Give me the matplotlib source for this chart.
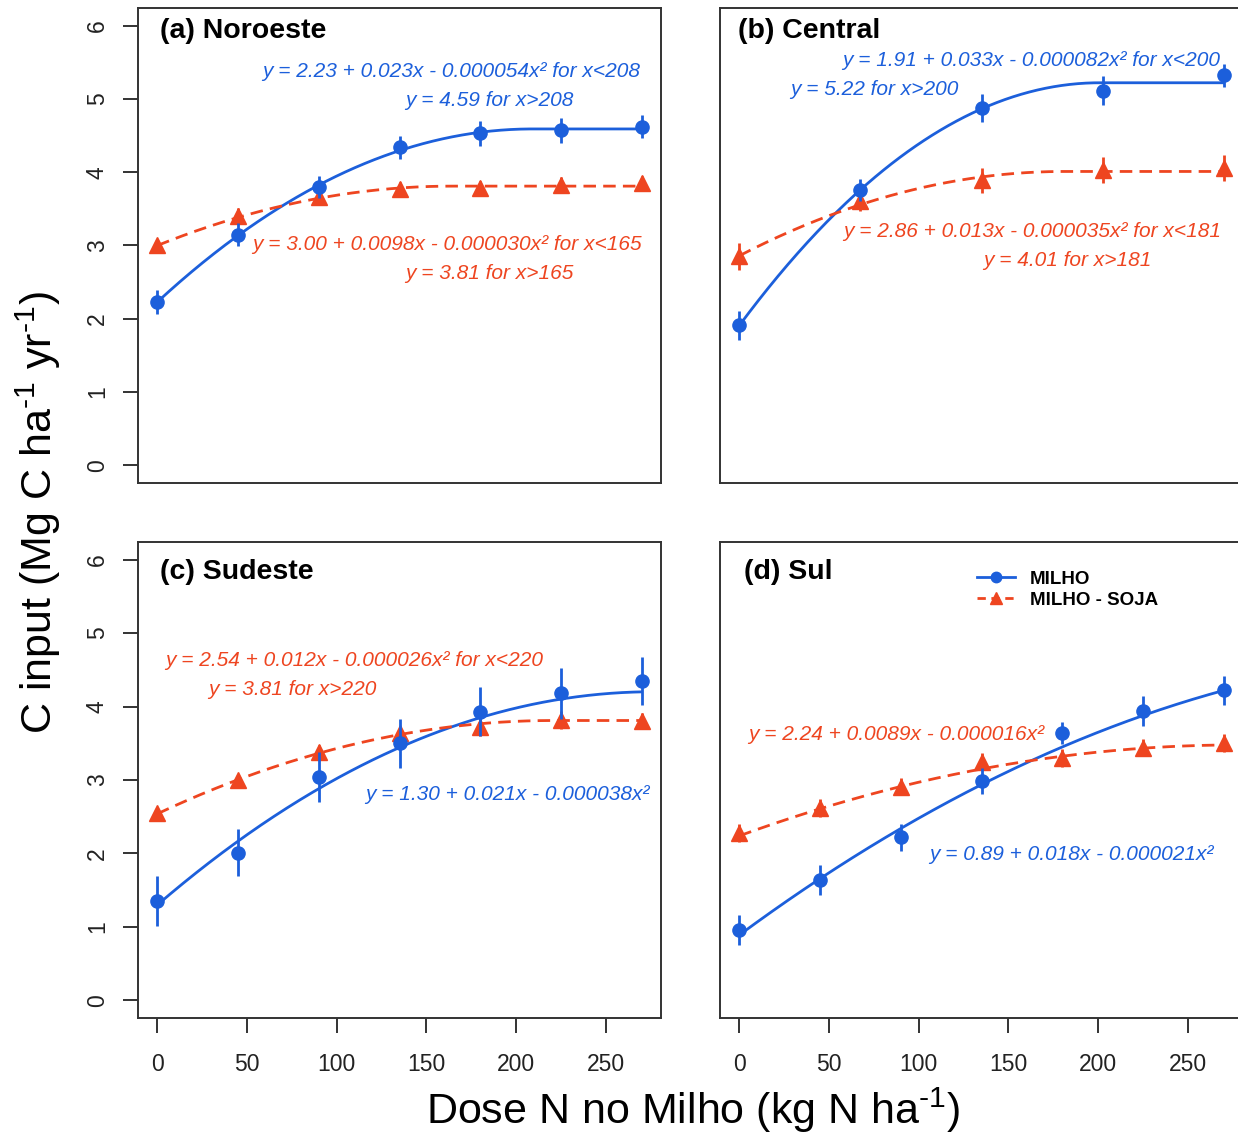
import numpy as np
import matplotlib
matplotlib.use("Agg")
import matplotlib.pyplot as plt
from matplotlib.lines import Line2D

plt.rcParams['font.family'] = ['Liberation Sans', 'DejaVu Sans']
plt.rcParams['mathtext.fontset'] = 'custom'
plt.rcParams['mathtext.rm'] = 'Liberation Sans'
plt.rcParams['mathtext.it'] = 'Liberation Sans:italic'
plt.rcParams['mathtext.bf'] = 'Liberation Sans:bold'

# ---------------- data ----------------
doses7 = [0, 45, 90, 135, 180, 225, 270]
doses5 = [0, 67.5, 135, 202.5, 270]

a_milho = [2.23, 3.15, 3.80, 4.34, 4.53, 4.57, 4.62]
a_milho_err = [0.16, 0.16, 0.15, 0.16, 0.17, 0.17, 0.16]
a_soja = [3.00, 3.40, 3.66, 3.77, 3.78, 3.83, 3.85]
a_soja_err = [0.07, 0.11, 0.10, 0.10, 0.10, 0.10, 0.10]

b_milho = [1.91, 3.76, 4.87, 5.11, 5.32]
b_milho_err = [0.20, 0.15, 0.19, 0.20, 0.16]
b_soja = [2.85, 3.61, 3.89, 4.03, 4.06]
b_soja_err = [0.18, 0.14, 0.17, 0.18, 0.18]

c_milho = [1.35, 2.01, 3.04, 3.50, 3.93, 4.18, 4.35]
c_milho_err = [0.34, 0.32, 0.34, 0.33, 0.33, 0.35, 0.33]
c_soja = [2.55, 3.00, 3.38, 3.64, 3.72, 3.82, 3.81]
c_soja_err = [0.08, 0.08, 0.10, 0.10, 0.12, 0.12, 0.10]

d_milho = [0.96, 1.64, 2.22, 2.99, 3.64, 3.94, 4.22]
d_milho_err = [0.20, 0.20, 0.18, 0.18, 0.15, 0.20, 0.20]
d_soja = [2.28, 2.62, 2.91, 3.25, 3.30, 3.44, 3.50]
d_soja_err = [0.12, 0.12, 0.12, 0.12, 0.12, 0.12, 0.12]

# fitted models: intercept, linear, quadratic, join point, plateau
a_milho_fit = [2.23, 0.023, -0.000054, 208, 4.59]
a_soja_fit = [3.00, 0.0098, -0.000030, 165, 3.81]
b_milho_fit = [1.91, 0.033, -0.000082, 200, 5.22]
b_soja_fit = [2.86, 0.013, -0.000035, 181, 4.01]
c_milho_fit = [1.30, 0.021, -0.000038, None, None]
c_soja_fit = [2.54, 0.012, -0.000026, 220, 3.81]
d_milho_fit = [0.89, 0.018, -0.000021, None, None]
d_soja_fit = [2.24, 0.0089, -0.000016, None, None]

panel_titles = ["(a) Noroeste", "(b) Central", "(c) Sudeste", "(d) Sul"]
legend_labels = ["MILHO", "MILHO - SOJA"]
yticks = [0, 1, 2, 3, 4, 5, 6]
xticks = [0, 50, 100, 150, 200, 250]

BLUE = "#1C5FDB"
RED = "#EE4520"
AXC = "#333333"

def fit_curve(coefs, xmax=270):
    a, b, c, x0, plat = coefs
    xs = np.linspace(0, xmax, 300)
    q = lambda x: a + b * x + c * x ** 2
    if x0 is None:
        return xs, q(xs)
    xm = np.minimum(xs, x0)
    ys = q(xm) + (plat - q(x0)) * xm / x0
    return xs, ys

fig = plt.figure(figsize=(12.38, 11.33), dpi=100)
W, H = 1238, 1133
def box(l, t, r, b):
    return [l / W, 1 - b / H, (r - l) / W, (b - t) / H]

axes = [
    fig.add_axes(box(138, 8, 661, 483)),
    fig.add_axes(box(720, 8, 1243, 483)),
    fig.add_axes(box(138, 542, 661, 1018)),
    fig.add_axes(box(720, 542, 1243, 1018)),
]

panels = [
    (doses7, a_milho, a_milho_err, a_soja, a_soja_err, a_milho_fit, a_soja_fit),
    (doses5, b_milho, b_milho_err, b_soja, b_soja_err, b_milho_fit, b_soja_fit),
    (doses7, c_milho, c_milho_err, c_soja, c_soja_err, c_milho_fit, c_soja_fit),
    (doses7, d_milho, d_milho_err, d_soja, d_soja_err, d_milho_fit, d_soja_fit),
]

for i, (ax, p) in enumerate(zip(axes, panels)):
    x, m, me, s, se, mf, sf = p
    ax.set_xlim(-10.8, 280.8)
    ax.set_ylim(-0.24, 6.24)
    xs, ys = fit_curve(mf)
    ax.plot(xs, ys, color=BLUE, lw=2.0, zorder=2)
    xs, ys = fit_curve(sf)
    ax.plot(xs, ys, color=RED, lw=2.0, ls=(0, (4.5, 2.6)), zorder=2)
    ax.errorbar(x, s, yerr=se, fmt='^', color=RED, ms=11, elinewidth=2.0,
                capsize=0, zorder=3)
    ax.errorbar(x, m, yerr=me, fmt='o', color=BLUE, ms=9.5, elinewidth=2.0,
                capsize=0, zorder=4)
    for sp in ax.spines.values():
        sp.set_color(AXC)
        sp.set_linewidth(1.4)
    ax.tick_params(direction='out', length=11, width=1.4, color=AXC,
                   labelsize=16.5, labelcolor='#222222', pad=13)
    if i in (0, 2):
        ax.set_yticks(yticks)
        ax.tick_params(axis='y', labelrotation=90, pad=10)
        for lab in ax.get_yticklabels():
            lab.set_verticalalignment('center')
    else:
        ax.set_yticks([])
    if i in (2, 3):
        ax.set_xticks(xticks)
        ax.tick_params(axis='x', pad=14)
    else:
        ax.set_xticks([])
    tx = 1.7 if i in (0, 2) else -1.0
    ty = 5.93 if i < 2 else 5.83
    if i == 3:
        tx = 2.8
    ax.text(tx, ty, panel_titles[i], fontsize=20.5, fontweight='bold',
            ha='left', va='center', color='black')

eq_kw = dict(fontsize=15, style='italic')
# (a)
ax = axes[0]
ax.text(269, 5.37, "y = 2.23 + 0.023x - 0.000054x² for x<208", color=BLUE, ha='right', va='center', **eq_kw)
ax.text(185, 4.98, "y = 4.59 for x>208", color=BLUE, ha='center', va='center', **eq_kw)
ax.text(270, 3.01, "y = 3.00 + 0.0098x - 0.000030x² for x<165", color=RED, ha='right', va='center', **eq_kw)
ax.text(185, 2.62, "y = 3.81 for x>165", color=RED, ha='center', va='center', **eq_kw)
# (b)
ax = axes[1]
ax.text(268, 5.52, "y = 1.91 + 0.033x - 0.000082x² for x<200", color=BLUE, ha='right', va='center', **eq_kw)
ax.text(28.4, 5.13, "y = 5.22 for x>200", color=BLUE, ha='left', va='center', **eq_kw)
ax.text(268.5, 3.19, "y = 2.86 + 0.013x - 0.000035x² for x<181", color=RED, ha='right', va='center', **eq_kw)
ax.text(183, 2.80, "y = 4.01 for x>181", color=RED, ha='center', va='center', **eq_kw)
# (c)
ax = axes[2]
ax.text(4.5, 4.62, "y = 2.54 + 0.012x - 0.000026x² for x<220", color=RED, ha='left', va='center', **eq_kw)
ax.text(28.4, 4.23, "y = 3.81 for x>220", color=RED, ha='left', va='center', **eq_kw)
ax.text(274.5, 2.80, "y = 1.30 + 0.021x - 0.000038x²", color=BLUE, ha='right', va='center', **eq_kw)
# (d)
ax = axes[3]
ax.text(5.0, 3.62, "y = 2.24 + 0.0089x - 0.000016x²", color=RED, ha='left', va='center', **eq_kw)
ax.text(264.5, 1.98, "y = 0.89 + 0.018x - 0.000021x²", color=BLUE, ha='right', va='center', **eq_kw)

handles = [
    Line2D([], [], color=BLUE, lw=2.0, marker='o', ms=7.5),
    Line2D([], [], color=RED, lw=2.0, ls=(0, (3, 2)), marker='^', ms=9),
]
leg = axes[3].legend(handles, legend_labels, loc='upper left',
                     bbox_to_anchor=(0.46, 0.975), frameon=False,
                     prop={'weight': 'bold', 'size': 13.5},
                     handlelength=2.0, handletextpad=0.8, labelspacing=0.2)

fig.text(38 / W, 1 - 512 / H, r"C input (Mg C ha$^{\text{-1}}$ yr$^{\text{-1}}$)", rotation=90,
         fontsize=31, ha='center', va='center')
fig.text(693 / W, 1 - 1110 / H, r"Dose N no Milho (kg N ha$^{\text{-1}}$)",
         fontsize=31, ha='center', va='center')

fig.savefig("out.png", dpi=100)
